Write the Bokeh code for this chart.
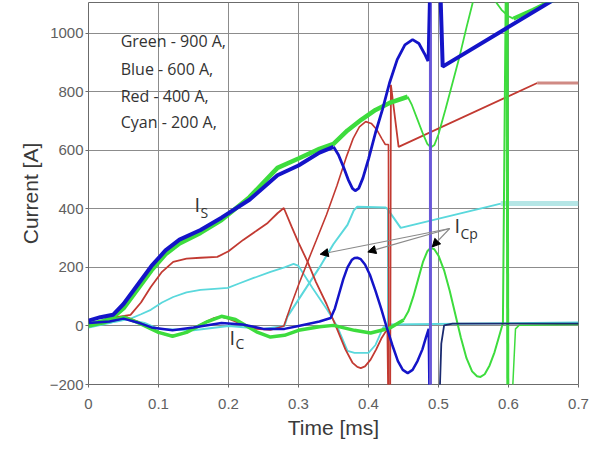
from bokeh.plotting import figure
from bokeh.models import Range1d, FixedTicker, Label, Arrow, NormalHead
from bokeh.embed import file_html
from bokeh.resources import INLINE

# ---------------- data (time in ms, current in A) ----------------
# Green - 900 A
green_is_t = [0, 0.02, 0.035, 0.05, 0.07, 0.09, 0.11, 0.13, 0.16, 0.19, 0.23, 0.27, 0.30, 0.33, 0.35, 0.37, 0.39, 0.41, 0.43, 0.456]
green_is_i = [5, 15, 30, 60, 125, 190, 245, 282, 318, 362, 440, 540, 572, 605, 622, 668, 705, 738, 762, 783]
green_osc_t = [0.456, 0.462, 0.47, 0.478, 0.484, 0.489, 0.494, 0.50, 0.51, 0.52, 0.53, 0.54, 0.55]
green_osc_i = [783, 755, 705, 655, 622, 610, 618, 655, 740, 830, 920, 1020, 1115]
green_top_t = [0.578, 0.59, 0.60, 0.607]
green_top_i = [1120, 1080, 1058, 1050]
green_end_t = [0.607, 0.635, 0.665]
green_end_i = [1050, 1080, 1115]
green_ic_t = [0, 0.02, 0.05, 0.07, 0.10, 0.12, 0.14, 0.17, 0.19, 0.21, 0.24, 0.26, 0.28, 0.30, 0.33, 0.35, 0.38, 0.403, 0.43, 0.45]
green_ic_i = [0, 10, 30, 12, -22, -35, -22, 15, 33, 22, -20, -38, -32, -15, -3, 2, -15, -24, -8, 20]
green_sine_t = [0.45, 0.457, 0.464, 0.471, 0.478, 0.484, 0.489, 0.494, 0.50, 0.508, 0.516, 0.524, 0.532, 0.54, 0.548, 0.555, 0.56, 0.566, 0.573, 0.58, 0.586, 0.592, 0.596]
green_sine_i = [20, 50, 100, 160, 220, 255, 267, 262, 240, 190, 120, 40, -40, -110, -155, -172, -174, -165, -135, -90, -40, 10, 1120]
green_drop_t = [0.598, 0.599]
green_drop_i = [1120, -210]
green_tail_t = [0.606, 0.61, 0.615, 0.70]
green_tail_i = [-210, -10, 2, 5]

# Blue - 600 A
blue_is_t = [0, 0.017, 0.035, 0.05, 0.07, 0.09, 0.11, 0.13, 0.16, 0.19, 0.23, 0.27, 0.30, 0.33, 0.35]
blue_is_i = [18, 30, 38, 75, 140, 205, 258, 295, 328, 370, 431, 515, 548, 592, 612]
blue_v_t = [0.35, 0.357, 0.364, 0.371, 0.377, 0.381, 0.386, 0.392, 0.40, 0.41, 0.42, 0.43, 0.441, 0.452, 0.463, 0.472, 0.48, 0.485, 0.487]
blue_v_i = [612, 585, 545, 500, 470, 462, 470, 505, 570, 660, 740, 830, 910, 960, 978, 965, 930, 905, 1120]
blue_rise_t = [0.503, 0.506, 0.665]
blue_rise_i = [1120, 886, 1115]
blue_spike_t = [0.4885, 0.4885]
blue_spike_i = [-210, 1120]
blue_ic_t = [0, 0.03, 0.05, 0.07, 0.09, 0.12, 0.15, 0.19, 0.22, 0.25, 0.28, 0.30, 0.33, 0.346, 0.352, 0.358, 0.364, 0.37, 0.376, 0.38, 0.384, 0.389, 0.395, 0.402, 0.41, 0.418, 0.426, 0.434, 0.442, 0.449, 0.456, 0.463, 0.47, 0.477, 0.482, 0.486, 0.487]
blue_ic_i = [10, 15, 25, 12, -5, -15, -5, 10, 5, -10, -10, 0, 15, 27, 60, 110, 160, 200, 225, 232, 233, 228, 210, 175, 120, 60, -5, -65, -120, -150, -161, -150, -120, -80, -40, -10, -210]
blue_tail_t = [0.502, 0.504, 0.508, 0.52, 0.70]
blue_tail_i = [-210, -60, 2, 8, 8]

# Red - 400 A
red_is_t = [0, 0.02, 0.04, 0.06, 0.075, 0.089, 0.105, 0.121, 0.14, 0.16, 0.184, 0.20, 0.221, 0.24, 0.256, 0.27, 0.279, 0.29, 0.30, 0.313, 0.325, 0.34, 0.355, 0.367, 0.377, 0.384, 0.389, 0.395, 0.403, 0.411, 0.419, 0.427, 0.428]
red_is_i = [5, 15, 30, 38, 80, 133, 185, 219, 230, 233, 236, 255, 294, 325, 352, 385, 403, 340, 285, 219, 150, 75, -10, -80, -125, -140, -144, -138, -115, -80, -40, -10, -210]
red_ic_t = [0, 0.02, 0.04, 0.055, 0.07, 0.09, 0.11, 0.125, 0.14, 0.16, 0.18, 0.19, 0.20, 0.22, 0.24, 0.26, 0.279, 0.29, 0.30, 0.313, 0.325, 0.34, 0.355, 0.368, 0.378, 0.387, 0.396, 0.404, 0.412, 0.419, 0.424, 0.4285, 0.429]
red_ic_i = [0, 10, 25, 30, 15, -10, -30, -33, -20, 5, 28, 31, 25, 5, -10, -14, 0, 75, 140, 219, 290, 380, 480, 575, 640, 680, 698, 692, 670, 640, 620, 620, -210]
red_after_t = [0.431, 0.432, 0.443, 0.641]
red_after_i = [-210, 824, 612, 830]
red_flat_t = [0.641, 0.70]
red_flat_i = [830, 830]

# Cyan - 200 A
cyan_is_t = [0, 0.02, 0.04, 0.06, 0.075, 0.089, 0.105, 0.121, 0.14, 0.16, 0.18, 0.199, 0.215, 0.236, 0.26, 0.28, 0.293, 0.30, 0.32, 0.341, 0.355, 0.37, 0.38, 0.40, 0.41, 0.421, 0.43, 0.70]
cyan_is_i = [5, 8, 15, 25, 40, 55, 80, 99, 115, 123, 127, 130, 145, 164, 185, 200, 212, 205, 130, 55, 0, -85, -92, -92, -65, -5, 5, 12]
cyan_ic_t = [0, 0.03, 0.05, 0.08, 0.10, 0.15, 0.20, 0.25, 0.28, 0.284, 0.30, 0.33, 0.35, 0.37, 0.379, 0.384, 0.424, 0.427, 0.446, 0.589]
cyan_ic_i = [-5, 10, 25, 10, -10, -15, 0, -10, 0, 31, 90, 200, 280, 345, 395, 407, 405, 400, 335, 418]
cyan_drop_t = [0.4275, 0.4275]
cyan_drop_i = [400, 0]
cyan_flat_t = [0.589, 0.70]
cyan_flat_i = [418, 418]

legend_lines = ["Green - 900 A,", "Blue - 600 A,", "Red - 400 A,", "Cyan - 200 A,"]
x_ticks = [0, 0.1, 0.2, 0.3, 0.4, 0.5, 0.6, 0.7]
y_ticks = [-200, 0, 200, 400, 600, 800, 1000]

GREEN = "#3ddc3d"
BLUE = "#1414c8"
RED = "#c23a32"
CYAN = "#5ad8dc"
FONT = "Open Sans"
AXFONT = "Liberation Sans"

p = figure(width=613, height=451, output_backend="svg", toolbar_location=None,
           x_range=Range1d(0, 0.7), y_range=Range1d(-200, 1105),
           min_border_left=88, min_border_right=35, min_border_top=2, min_border_bottom=67,
           background_fill_color="white", border_fill_color="white")

p.outline_line_color = "#6b6b6b"
p.outline_line_width = 1
p.xgrid.grid_line_color = "#8c8c8c"
p.ygrid.grid_line_color = "#8c8c8c"
p.xgrid.grid_line_width = 1
p.ygrid.grid_line_width = 1
p.xaxis.ticker = FixedTicker(ticks=x_ticks)
p.yaxis.ticker = FixedTicker(ticks=y_ticks)
for ax in (p.xaxis[0], p.yaxis[0]):
    ax.axis_line_color = None
    ax.major_tick_line_color = "#6b6b6b"
    ax.major_tick_in = 0
    ax.major_tick_out = 3
    ax.minor_tick_line_color = None
    ax.major_label_text_font = AXFONT
    ax.major_label_text_font_size = "15px"
    ax.major_label_text_color = "#606060"
    ax.axis_label_text_font = AXFONT
    ax.axis_label_text_font_size = "21px"
    ax.axis_label_text_font_style = "normal"
    ax.axis_label_text_color = "#3a3a3a"
p.xaxis.axis_label = "Time [ms]"
p.yaxis.axis_label = "Current [A]"
p.xaxis.major_label_standoff = 11
p.yaxis.major_label_standoff = 2
p.xaxis.axis_label_standoff = 4
p.yaxis.axis_label_standoff = 5

# cyan
p.line(cyan_ic_t, cyan_ic_i, line_color=CYAN, line_width=2)
p.line(cyan_drop_t, cyan_drop_i, line_color=CYAN, line_width=1.5)
p.line(cyan_flat_t, cyan_flat_i, line_color="#b5e6e6", line_width=5)
p.line(cyan_is_t, cyan_is_i, line_color=CYAN, line_width=1.8)
# red
p.line(red_is_t, red_is_i, line_color=RED, line_width=1.8)
p.line(red_ic_t, red_ic_i, line_color=RED, line_width=1.6)
p.line(red_after_t, red_after_i, line_color=RED, line_width=1.8)
p.line(red_flat_t, red_flat_i, line_color="#d08a84", line_width=3)
# green
p.line(green_ic_t, green_ic_i, line_color=GREEN, line_width=3.5)
p.line(green_sine_t, green_sine_i, line_color=GREEN, line_width=2)
p.line(green_drop_t, green_drop_i, line_color=GREEN, line_width=3)
p.line(green_tail_t, green_tail_i, line_color=GREEN, line_width=1.5)
p.line(green_is_t, green_is_i, line_color=GREEN, line_width=4.5)
p.line(green_osc_t, green_osc_i, line_color=GREEN, line_width=1.8)
p.line(green_top_t, green_top_i, line_color=GREEN, line_width=1.8)
p.line(green_end_t, green_end_i, line_color=GREEN, line_width=4)
# blue
p.line(blue_ic_t, blue_ic_i, line_color=BLUE, line_width=2.5)
p.line(blue_tail_t, blue_tail_i, line_color="#1a2a70", line_width=1.8)
p.line(blue_spike_t, blue_spike_i, line_color="#6a58d8", line_width=3)
p.line(blue_is_t, blue_is_i, line_color=BLUE, line_width=4)
p.line(blue_v_t, blue_v_i, line_color=BLUE, line_width=2.8)
p.line(blue_rise_t, blue_rise_i, line_color=BLUE, line_width=4)

# legend-like text block
legend_y = [975, 879, 787, 698]
for txt, yy in zip(legend_lines, legend_y):
    p.add_layout(Label(x=0.046, y=yy, text=txt, text_font=FONT, text_font_size="16px",
                       text_color="#333333", text_baseline="middle"))

def sub_label(x, y, main, sub, dx, dy):
    p.add_layout(Label(x=x, y=y, text=main, text_font=FONT, text_font_size="20px",
                       text_color="#333333", text_baseline="middle"))
    p.add_layout(Label(x=x + dx, y=y + dy, text=sub, text_font=FONT, text_font_size="14px",
                       text_color="#333333", text_baseline="middle"))

sub_label(0.1514, 414, "I", "S", 0.0085, -26)
sub_label(0.2014, -41, "I", "C", 0.0085, -18)
sub_label(0.523, 342, "I", "Cp", 0.0085, -26)

for ex, ey in [(0.331, 245), (0.399, 253), (0.491, 270)]:
    p.add_layout(Arrow(x_start=0.516, y_start=333, x_end=ex, y_end=ey,
                       line_color="#8a8a8a", line_width=1.2,
                       end=NormalHead(size=8, fill_color="black", line_color="black")))

open("out.html", "w").write(file_html(p, INLINE))
